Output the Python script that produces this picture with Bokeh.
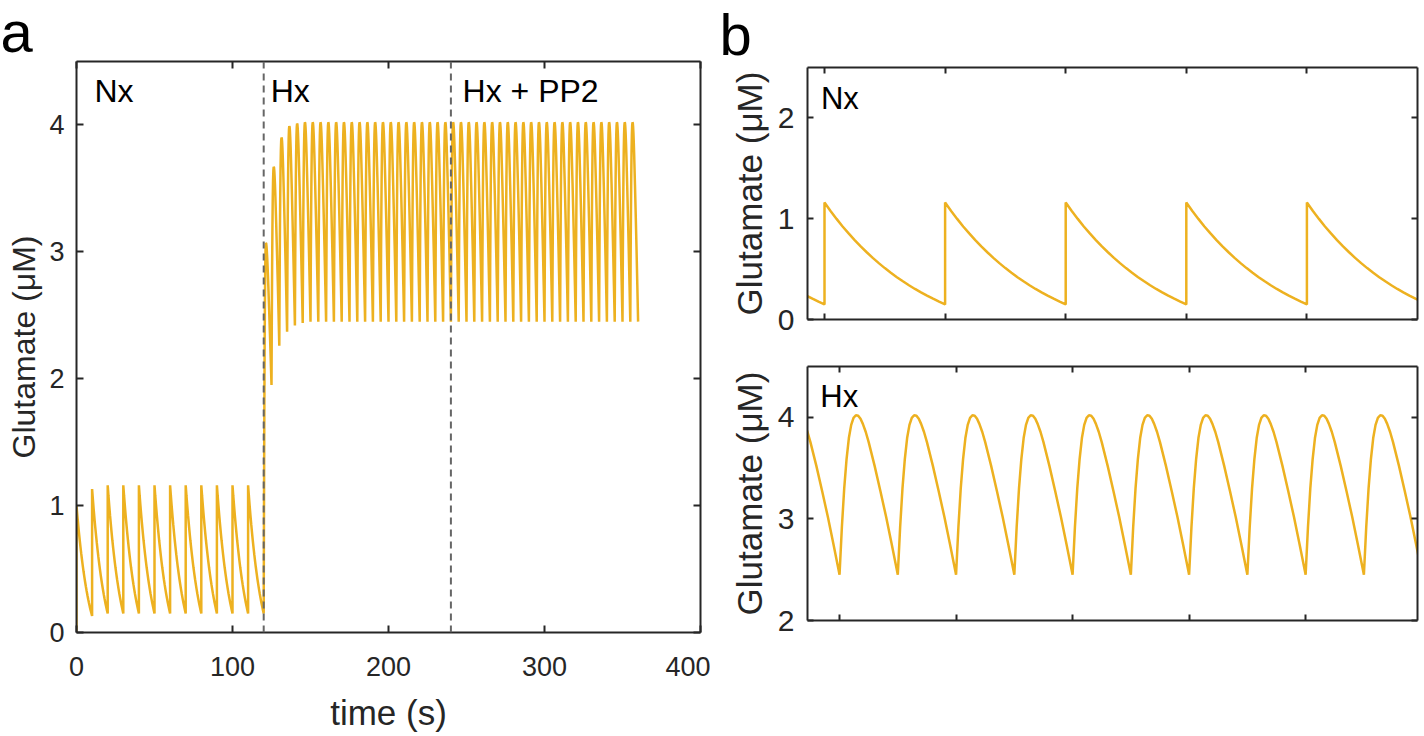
import numpy as np
from bokeh.plotting import figure
from bokeh.layouts import row, column
from bokeh.models import Span, Label, LinearAxis, FixedTicker, Range1d
from bokeh.embed import file_html
from bokeh.resources import INLINE

LINE_COLOR = "#EDB120"
AX_COLOR = "#262626"
DASH_COLOR = "#666666"
FONT = "Liberation Sans"

# ---------------- data ----------------
# normoxia (Nx) cycle: value read every 0.5 s after a release spike
NX_SHAPE_T = [0, 0.5, 1, 1.5, 2, 2.5, 3, 3.5, 4, 4.5, 5, 5.5, 6, 6.5, 7, 7.5, 8, 8.5, 9, 9.5, 10]
NX_SHAPE_V = [1.16, 1.076, 0.998, 0.923, 0.854, 0.788, 0.725, 0.667, 0.611, 0.559, 0.510,
              0.464, 0.420, 0.379, 0.340, 0.303, 0.269, 0.236, 0.206, 0.177, 0.150]

# hypoxia (Hx) cycle: value read after each trough
HX_SHAPE_T = [0, 0.2, 0.4, 0.6, 0.8, 1.0, 1.2, 1.4, 1.6, 1.8, 2.0, 2.25, 2.5, 3.0, 3.5, 4.0, 4.5, 5.0]
HX_SHAPE_V = [2.45, 2.92, 3.30, 3.59, 3.80, 3.93, 4.00, 4.025, 4.02, 3.99, 3.94, 3.86, 3.76,
              3.53, 3.28, 3.02, 2.74, 2.45]

# panel a
A_NX_SPIKE_T = [0, 10, 20, 30, 40, 50, 60, 70, 80, 90, 100, 110]
A_NX_PEAK = [1.00, 1.13, 1.16, 1.16, 1.16, 1.16, 1.16, 1.16, 1.16, 1.16, 1.16, 1.16]
A_NX_TROUGH = [0.13, 0.15, 0.15, 0.15, 0.15, 0.15, 0.15, 0.15, 0.15, 0.15, 0.15, 0.15]
A_HX_CYCLE_T = list(range(120, 360, 5))
A_HX_PEAK = [3.07, 3.67, 3.90, 3.99, 4.01] + [4.02] * 43
A_HX_TROUGH = [1.95, 2.26, 2.37, 2.42, 2.44] + [2.45] * 43
PHASE_T = [120, 240]
PHASE_LABELS = ["Nx", "Hx", "Hx + PP2"]
PHASE_LABEL_T = [11.5, 124.5, 247.5]
A_XTICKS = [0, 100, 200, 300, 400]
A_YTICKS = [0, 1, 2, 3, 4]

# panel b
B_NX_SPIKE_T = [-10, 0, 10, 20, 30, 40]
B_NX_PEAK = [1.16] * 6
B_NX_TROUGH = [0.15] * 6
B_HX_CYCLE_T = [-5, 0, 5, 10, 15, 20, 25, 30, 35, 40, 45]
B_HX_PEAK = [4.02] * 11
B_HX_TROUGH = [2.45] * 11
B_XTICKS = [0, 10, 20, 30, 40]
B1_YTICKS = [0, 1, 2]
B2_YTICKS = [2, 3, 4]


# ---------------- build traces from the read values ----------------
def nx_trace(spikes, peaks, troughs):
    s0, s1 = NX_SHAPE_V[0], NX_SHAPE_V[-1]
    ts, vs = [], []
    for t0, pk, tr in zip(spikes, peaks, troughs):
        for dt, v in zip(NX_SHAPE_T, NX_SHAPE_V):
            f = (v - s1) / (s0 - s1)
            ts.append(t0 + dt)
            vs.append(tr + (pk - tr) * f)
    return ts, vs


def hx_trace(starts, start_val, peaks, troughs):
    ipk = int(np.argmax(HX_SHAPE_V))
    v0, vp, v1 = HX_SHAPE_V[0], HX_SHAPE_V[ipk], HX_SHAPE_V[-1]
    ts, vs = [], []
    prev = start_val
    for t0, pk, tr in zip(starts, peaks, troughs):
        for i, (dt, v) in enumerate(zip(HX_SHAPE_T, HX_SHAPE_V)):
            if i <= ipk:
                val = prev + (pk - prev) * (v - v0) / (vp - v0)
            else:
                val = tr + (pk - tr) * (v - v1) / (vp - v1)
            ts.append(t0 + dt)
            vs.append(val)
        prev = tr
    return ts, vs


def style_axis(ax, tick_len, font_size, show_labels=True):
    ax.axis_line_color = AX_COLOR
    ax.axis_line_width = 2
    ax.major_tick_line_color = AX_COLOR
    ax.major_tick_line_width = 2
    ax.major_tick_in = tick_len
    ax.major_tick_out = 0
    ax.minor_tick_line_color = None
    ax.major_label_text_font = FONT
    if show_labels:
        ax.major_label_text_font_size = font_size
        ax.major_label_text_color = AX_COLOR
    else:
        ax.major_label_text_font_size = "1px"
        ax.major_label_text_color = None
        ax.major_label_standoff = 0
    ax.axis_label_text_font = FONT
    ax.axis_label_text_font_style = "normal"
    ax.axis_label_text_color = AX_COLOR


def make_fig(w, h, xr, yr, xticks, yticks, bl, br, bt, bb, tick_len, tick_font,
             show_xlabels, ylabel, xlabel=None, label_font="32px", xlabel_font="34px",
             ylab_standoff=12, ylabel_standoff=4):
    p = figure(width=w, height=h, x_range=Range1d(*xr), y_range=Range1d(*yr),
               output_backend="svg", toolbar_location=None,
               min_border_left=bl, min_border_right=br,
               min_border_top=bt, min_border_bottom=bb)
    p.grid.visible = False
    p.outline_line_color = None
    p.background_fill_color = "white"
    p.border_fill_color = "white"
    p.xaxis.ticker = FixedTicker(ticks=xticks)
    p.yaxis.ticker = FixedTicker(ticks=yticks)
    style_axis(p.xaxis[0], tick_len, tick_font, show_xlabels)
    style_axis(p.yaxis[0], tick_len, tick_font, True)
    p.yaxis.major_label_standoff = ylab_standoff
    p.yaxis.axis_label = ylabel
    p.yaxis.axis_label_text_font_size = label_font
    p.yaxis.axis_label_standoff = ylabel_standoff
    if show_xlabels:
        p.xaxis.major_label_standoff = 24
    if xlabel:
        p.xaxis.axis_label = xlabel
        p.xaxis.axis_label_text_font_size = xlabel_font
        p.xaxis.axis_label_standoff = 14
    ra = LinearAxis(ticker=FixedTicker(ticks=yticks))
    style_axis(ra, tick_len, tick_font, False)
    p.add_layout(ra, "right")
    ta = LinearAxis(ticker=FixedTicker(ticks=xticks))
    style_axis(ta, tick_len, tick_font, False)
    p.add_layout(ta, "above")
    return p


def add_text(p, x, y, text, size, units="data"):
    p.add_layout(Label(x=x, y=y, x_units=units, y_units=units, text=text,
                       text_font=FONT, text_font_size=size, text_color="black",
                       text_baseline="alphabetic", text_align="left"))


def panel_letter(p, letter, offset, standoff):
    p.title.text = letter
    p.title.text_font = FONT
    p.title.text_font_size = "58px"
    p.title.text_font_style = "normal"
    p.title.text_color = "black"
    p.title.align = "left"
    p.title.vertical_align = "top"
    p.title.offset = offset
    p.title.standoff = standoff


# ---------------- panel a ----------------
nx_t, nx_v = nx_trace(A_NX_SPIKE_T, A_NX_PEAK, A_NX_TROUGH)
hx_t, hx_v = hx_trace(A_HX_CYCLE_T, A_NX_TROUGH[-1], A_HX_PEAK, A_HX_TROUGH)
a_t = [0.0] + nx_t + hx_t
a_v = [0.0] + nx_v + hx_v

pa = make_fig(710, 734, (0, 400), (0, 4.5), A_XTICKS, A_YTICKS,
              76, 10, 61, 101, 7, "27px", True, "Glutamate (μM)",
              xlabel="time (s)", label_font="32px", xlabel_font="35px",
              ylab_standoff=12, ylabel_standoff=4)
pa.line(a_t, a_v, line_color=LINE_COLOR, line_width=2.5)
for t in PHASE_T:
    pa.add_layout(Span(location=t, dimension="height", line_color=DASH_COLOR,
                       line_width=2, line_dash="7 5"))
for lbl, t in zip(PHASE_LABELS, PHASE_LABEL_T):
    add_text(pa, t, 4.27, lbl, "32px")
panel_letter(pa, "a", -76, -8)

# ---------------- panel b ----------------
b1_t, b1_v = nx_trace(B_NX_SPIKE_T, B_NX_PEAK, B_NX_TROUGH)
pb1 = make_fig(712, 339, (-1.41, 49.17), (0, 2.5), B_XTICKS, B1_YTICKS,
               97, 5, 67, 20, 6, "30px", False, "Glutamate (μM)",
               label_font="35px", ylab_standoff=13, ylabel_standoff=6)
pb1.line(b1_t, b1_v, line_color=LINE_COLOR, line_width=2.5)
add_text(pb1, -0.3, 2.19, "Nx", "31px")
panel_letter(pb1, "b", -88, -3)

b2_t, b2_v = hx_trace(B_HX_CYCLE_T, B_HX_TROUGH[0], B_HX_PEAK, B_HX_TROUGH)
pb2 = make_fig(712, 381, (-2.75, 49.6), (2, 4.5), B_XTICKS, B2_YTICKS,
               97, 5, 27, 100, 6, "30px", False, "Glutamate (μM)",
               label_font="35px", ylab_standoff=13, ylabel_standoff=6)
pb2.line(b2_t, b2_v, line_color=LINE_COLOR, line_width=2.5)
add_text(pb2, -1.65, 4.20, "Hx", "31px")

layout = row(pa, column(pb1, pb2))
open("out.html", "w").write(file_html(layout, INLINE))
